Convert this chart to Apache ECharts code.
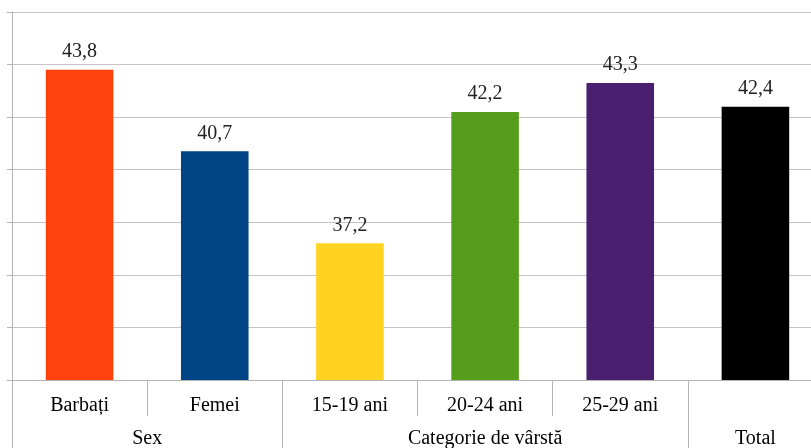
<!DOCTYPE html>
<html>
<head>
<meta charset="utf-8">
<script src="https://cdn.jsdelivr.net/npm/echarts@6/dist/echarts.min.js"></script>
<style>html,body{margin:0;padding:0;background:#fff}#c{width:811px;height:448px}</style>
</head>
<body>
<div id="c"></div>
<script>
const categories = ['Barbați', 'Femei', '15-19 ani', '20-24 ani', '25-29 ani', ''];
const values = [43.8, 40.7, 37.2, 42.2, 43.3, 42.4];
const colors = ['#ff420e', '#004586', '#ffd320', '#579d1c', '#4b1f6f', '#000000'];
const groups = ['Sex', 'Categorie de vârstă', 'Total'];
const groupBounds = [0, 2, 5, 6];
const groupCenters = [1, 3.5, 5.5];
const yMin = 32, yMax = 46, yStep = 2;

const font = 'Liberation Serif';
const chart = echarts.init(document.getElementById('c'));
chart.setOption({
  animation: false,
  grid: { left: 12, top: 12, width: 811, height: 368, containLabel: false, outerBoundsMode: 'none' },
  xAxis: [
    {
      type: 'category', data: categories, position: 'bottom', offset: 0,
      axisLine: { show: true, lineStyle: { color: '#b3b3b3', width: 1 } },
      axisTick: { show: true, interval: 0, length: 36, lineStyle: { color: '#b3b3b3' } },
      axisLabel: { interval: 0, margin: 16, color: '#000', fontFamily: font, fontSize: 20 }
    },
    {
      type: 'value', min: 0, max: 6, position: 'bottom', offset: 0,
      axisLine: { show: false },
      splitLine: { show: false },
      axisTick: { show: true, length: 70, customValues: groupBounds, lineStyle: { color: '#b3b3b3' } },
      axisLabel: {
        show: true, margin: 49, color: '#000', fontFamily: font, fontSize: 20,
        customValues: groupCenters,
        formatter: function (v) { const i = groupCenters.indexOf(v); return i >= 0 ? groups[i] : ''; }
      }
    }
  ],
  yAxis: {
    type: 'value', min: yMin, max: yMax, interval: yStep,
    axisLine: { show: true, lineStyle: { color: '#b3b3b3' } },
    axisTick: { show: true, length: 5, lineStyle: { color: '#b3b3b3' } },
    axisLabel: { show: false },
    splitLine: { show: true, lineStyle: { color: '#c4c4c4' } }
  },
  series: [{
    type: 'bar', xAxisIndex: 0,
    data: values.map((v, i) => ({ value: v, itemStyle: { color: colors[i] } })),
    barWidth: '50%',
    label: {
      show: true, position: 'top', distance: 8, color: '#222', fontFamily: font, fontSize: 20,
      formatter: p => String(p.value).replace('.', ',')
    }
  }]
});
</script>
</body>
</html>
